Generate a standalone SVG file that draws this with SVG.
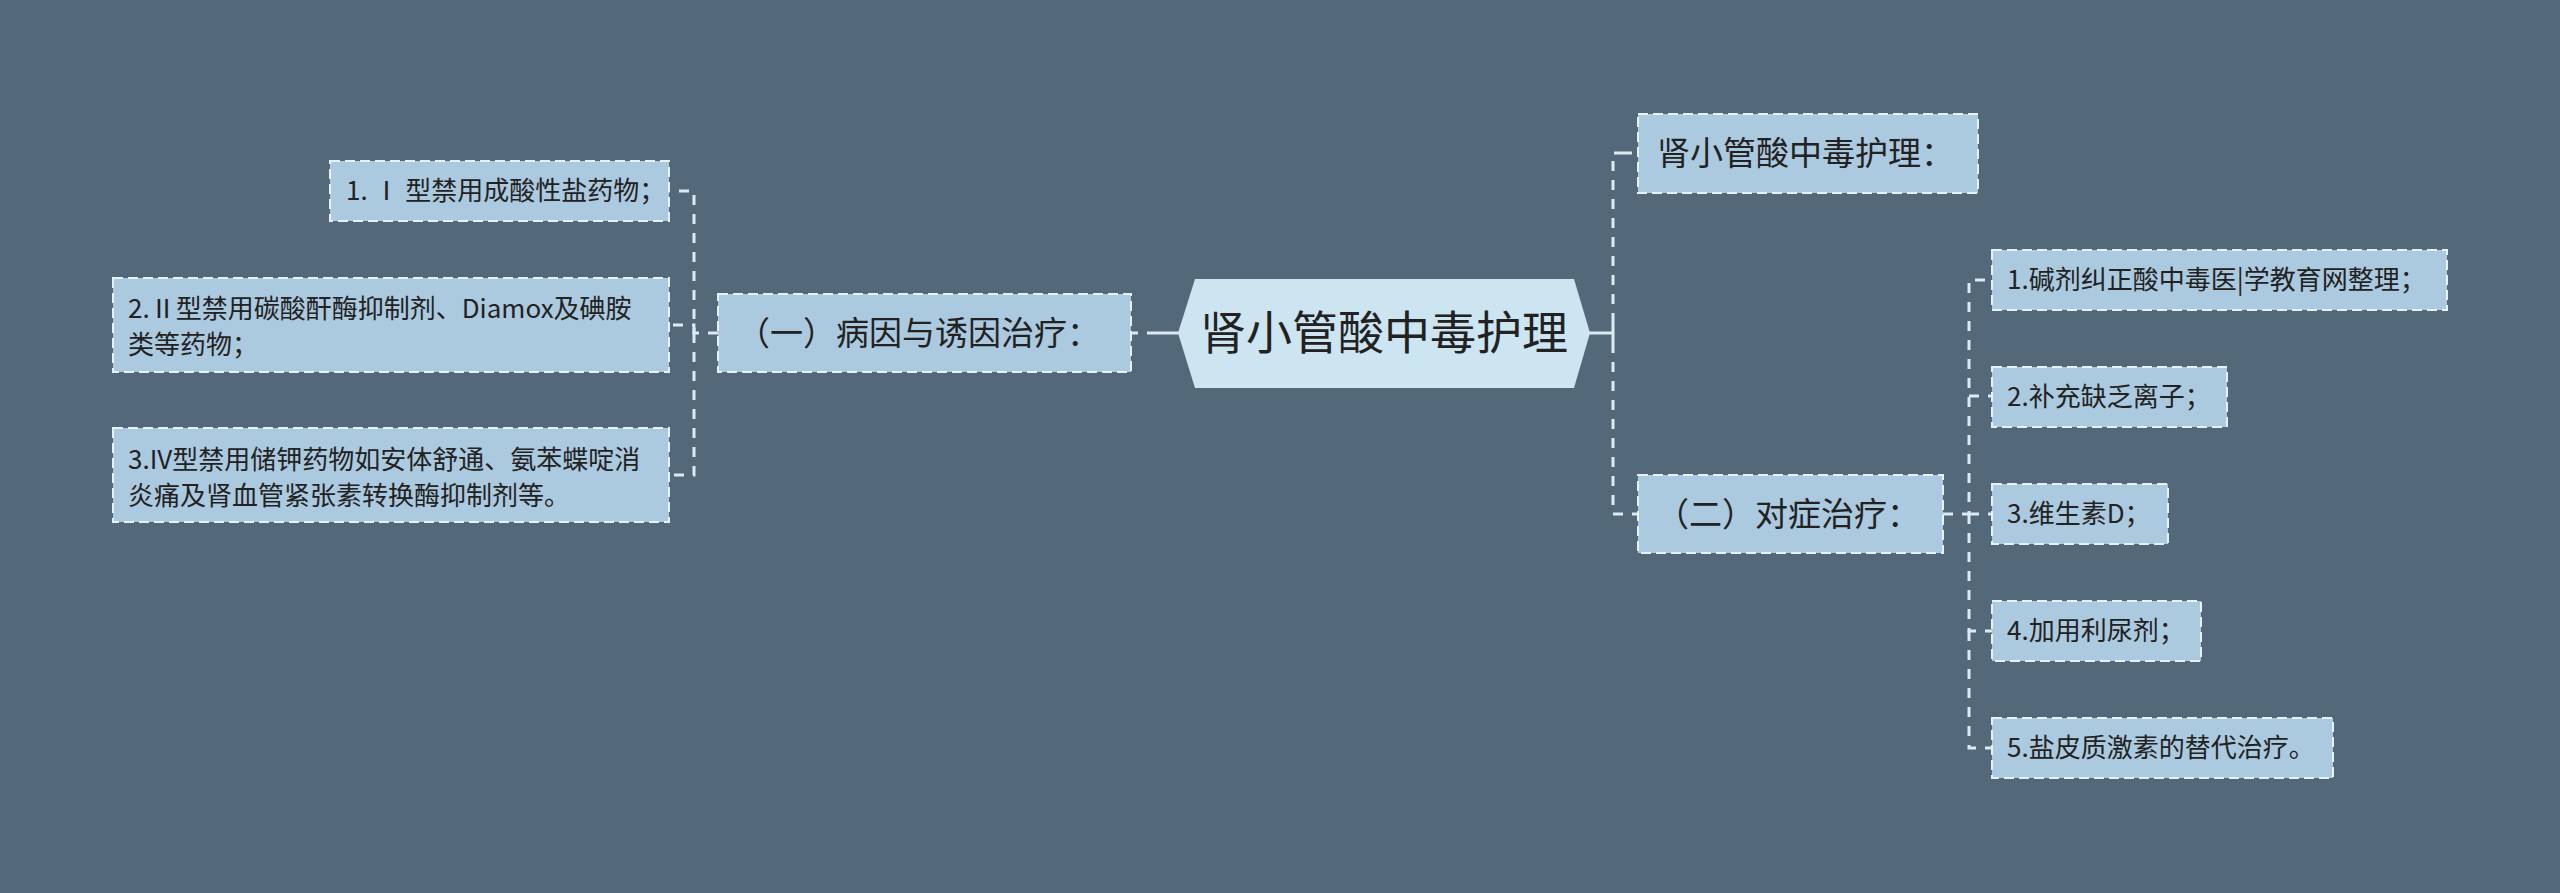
<svg xmlns="http://www.w3.org/2000/svg" width="2560" height="893" viewBox="0 0 2560 893">
<style>
.bg{fill:#536878}
.box{fill:#abc9df;stroke:#e6f2f9;stroke-width:2;stroke-dasharray:10 5}
.root{fill:#cde4f1;stroke:none}
.t{font-family:"Noto Sans CJK SC","Noto Sans",sans-serif;fill:#222}
.t0{font-size:46px}
.t1{font-size:33px}
.t2{font-size:26px}
.c{fill:none;stroke:#dceaf2;stroke-width:3}
.d{stroke-dasharray:10 9}
</style>
<rect class="bg" x="0" y="0" width="2560" height="893"/>
<g id="connectors">
  <line class="c" x1="1147" y1="333" x2="1179" y2="333"/>
  <line class="c" x1="1132" y1="333" x2="1138" y2="333"/>
  <line class="c" x1="1589" y1="333" x2="1613" y2="333"/>
  <line class="c" x1="1613" y1="323" x2="1613" y2="343"/>
  <path class="c d" d="M1613,323 V153 H1622"/>
  <line class="c" x1="1622" y1="153" x2="1632" y2="153"/>
  <path class="c d" d="M1613,343 V514 H1638"/>
  <path class="c d" d="M718,333 H694 V191 H669"/>
  <path class="c d" d="M694,333 V325 H669"/>
  <path class="c d" d="M694,333 V475 H669"/>
  <path class="c d" d="M1943,514 H1969 V280 H1992"/>
  <path class="c d" d="M1969,396 H1992"/>
  <path class="c d" d="M1969,514 H1992"/>
  <path class="c d" d="M1969,514 V631 H1992"/>
  <path class="c d" d="M1969,631 V748 H1992"/>
</g>
<g id="root">
  <polygon class="root" points="1178,333 1195,279 1574,279 1590,333 1574,388 1195,388"/>
  <text class="t t0" x="1384" y="349" text-anchor="middle">肾小管酸中毒护理</text>
</g>
<g id="n-left1">
  <rect class="box" x="718" y="294" width="413" height="78"/>
  <text class="t t1" x="737" y="345">（一）病因与诱因治疗：</text>
</g>
<g id="n-right1">
  <rect class="box" x="1638" y="114" width="340" height="79"/>
  <text class="t t1" x="1657" y="165">肾小管酸中毒护理：</text>
</g>
<g id="n-right2">
  <rect class="box" x="1638" y="475" width="305" height="78"/>
  <text class="t t1" x="1656" y="526">（二）对症治疗：</text>
</g>
<g id="n-l1">
  <rect class="box" x="330" y="161" width="339" height="60"/>
  <text class="t t2" x="346" y="200">1. Ⅰ 型禁用成酸性盐药物；</text>
</g>
<g id="n-l2">
  <rect class="box" x="113" y="278" width="556" height="94"/>
  <text class="t t2" x="128" y="318">2.Ⅱ型禁用碳酸酐酶抑制剂、Diamox及碘胺</text>
  <text class="t t2" x="128" y="354">类等药物；</text>
</g>
<g id="n-l3">
  <rect class="box" x="113" y="428" width="556" height="94"/>
  <text class="t t2" x="128" y="469">3.IV型禁用储钾药物如安体舒通、氨苯蝶啶消</text>
  <text class="t t2" x="128" y="505">炎痛及肾血管紧张素转换酶抑制剂等。</text>
</g>
<g id="n-r1">
  <rect class="box" x="1992" y="250" width="455" height="60"/>
  <text class="t t2" x="2007" y="289">1.碱剂纠正酸中毒医|学教育网整理；</text>
</g>
<g id="n-r2">
  <rect class="box" x="1992" y="367" width="235" height="60"/>
  <text class="t t2" x="2007" y="406">2.补充缺乏离子；</text>
</g>
<g id="n-r3">
  <rect class="box" x="1992" y="484" width="176" height="60"/>
  <text class="t t2" x="2007" y="523">3.维生素D；</text>
</g>
<g id="n-r4">
  <rect class="box" x="1992" y="601" width="209" height="60"/>
  <text class="t t2" x="2007" y="640">4.加用利尿剂；</text>
</g>
<g id="n-r5">
  <rect class="box" x="1992" y="718" width="341" height="60"/>
  <text class="t t2" x="2007" y="757">5.盐皮质激素的替代治疗。</text>
</g>
</svg>
